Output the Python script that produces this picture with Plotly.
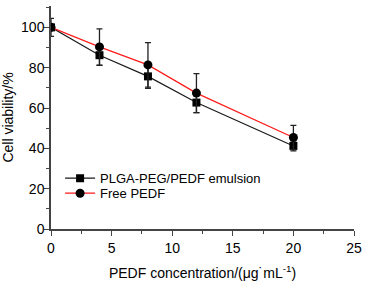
import plotly.graph_objects as go

conc = [0, 4, 8, 12, 20]
emulsion = [100, 86.2, 75.7, 62.7, 41.2]
emulsion_err = [4.5, 5.0, 6.0, 5.0, 2.5]
free = [100, 90.3, 81.4, 67.4, 45.4]
free_err = [0, 9.0, 11.0, 9.7, 6.0]

fig = go.Figure()
fig.add_trace(go.Scatter(
    x=conc, y=emulsion, name="PLGA-PEG/PEDF emulsion", mode="lines+markers",
    line=dict(color="#1a1a1a", width=1.2),
    marker=dict(symbol="square", size=8, color="#000000"),
    error_y=dict(type="data", array=emulsion_err, color="#222222", thickness=1.3, width=3),
    legend="legend",
))
fig.add_trace(go.Scatter(
    x=conc, y=free, name="Free PEDF", mode="lines+markers",
    line=dict(color="#ff1a1a", width=1.2),
    marker=dict(symbol="circle", size=9, color="#000000"),
    error_y=dict(type="data", array=free_err, color="#222222", thickness=1.3, width=3),
    legend="legend2",
))

font = "Liberation Sans, Arial, sans-serif"
leg = dict(x=0.03, xanchor="left", yanchor="middle", font=dict(size=13),
           bgcolor="rgba(0,0,0,0)", itemwidth=30)
fig.update_layout(
    width=372, height=281,
    margin=dict(l=51, r=18, t=6, b=52, autoexpand=False),
    paper_bgcolor="white", plot_bgcolor="white",
    font=dict(family=font, size=14, color="#000000"),
    showlegend=True,
    legend=dict(leg, y=0.2277),
    legend2=dict(leg, y=0.1603),
    xaxis=dict(range=[0, 25], tickvals=[0, 5, 10, 15, 20, 25], ticks="outside", ticklen=5,
               tickwidth=1.2, tickcolor="#444", showline=True, linecolor="#444", linewidth=1.5,
               showgrid=False, zeroline=False, automargin=False,
               minor=dict(ticks="outside", ticklen=3, tickcolor="#444", dtick=2.5, tick0=0),
               title=dict(text="PEDF concentration/(μg˙mL<sup>-1</sup>)",
                          font=dict(size=14))),
    yaxis=dict(range=[0, 110.6], tickvals=[0, 20, 40, 60, 80, 100], ticks="outside", ticklen=5,
               tickwidth=1.2, tickcolor="#444", showline=True, linecolor="#444", linewidth=1.5,
               showgrid=False, zeroline=False, automargin=True, ticklabelstandoff=-3,
               minor=dict(ticks="outside", ticklen=3, tickcolor="#444", dtick=10, tick0=0),
               title=dict(text="Cell viability/%", font=dict(size=14), standoff=4)),
    xaxis2=dict(overlaying="x", side="top", range=[0, 25], tickvals=[0, 5, 10, 15, 20, 25],
                ticks="inside", ticklen=3, tickcolor="#444", showline=True, linecolor="#444",
                linewidth=1.5, showticklabels=False, showgrid=False, zeroline=False,
                automargin=False, matches="x"),
    yaxis2=dict(overlaying="y", side="right", range=[0, 110.6], tickvals=[0, 20, 40, 60, 80, 100],
                ticks="inside", ticklen=3, tickcolor="#444", showline=True, linecolor="#444",
                linewidth=1.5, showticklabels=False, showgrid=False, zeroline=False,
                automargin=False, matches="y"),
)
fig.write_html("out.html", config={"displayModeBar": False},
               post_script="document.body.style.margin='0';")
